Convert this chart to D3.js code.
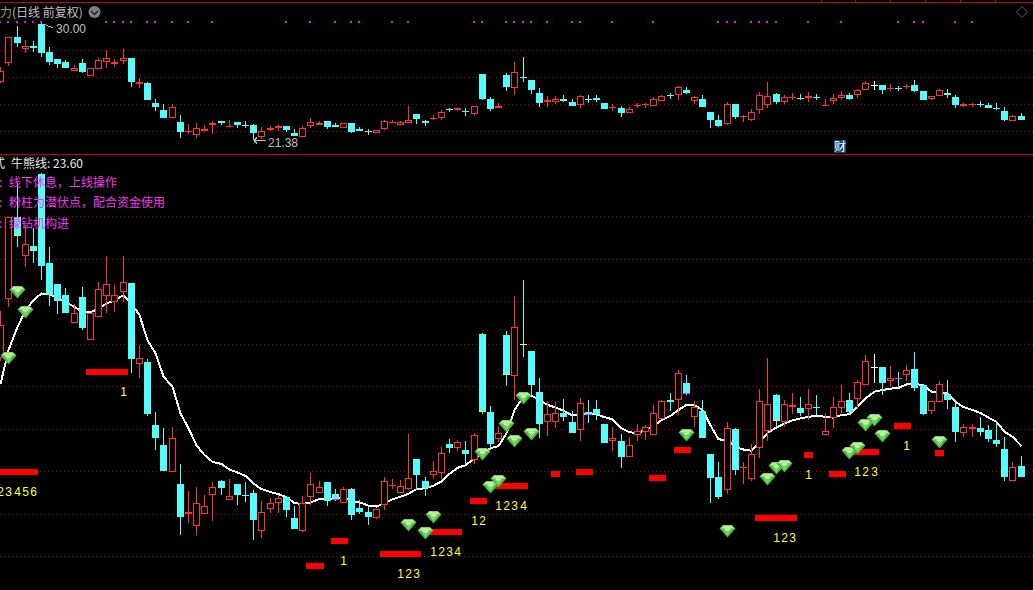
<!DOCTYPE html>
<html><head><meta charset="utf-8">
<script src="https://cdnjs.cloudflare.com/ajax/libs/d3/7.8.5/d3.min.js"></script>
<style>html,body{margin:0;padding:0;background:#000;overflow:hidden}svg{display:block}</style>
</head><body><svg id="c" width="1033" height="590"></svg>
<script>
const opens=[25.66,27.06,28.98,28.06,28.29,29.98,27.89,27.39,27.14,26.49,
27.09,26.09,26.63,27.12,26.98,27.22,27.42,25.53,25.56,24.08,
23.61,22.99,22.7,22.0,21.72,22.0,22.45,22.77,22.33,22.7,
22.44,22.49,21.6,22.12,22.26,22.39,21.9,21.6,22.39,22.49,
22.75,22.46,22.25,22.58,22.14,22.04,21.9,22.2,22.66,22.49,
22.58,23.29,22.77,22.91,22.97,23.64,23.55,23.5,23.27,26.22,
24.39,23.76,26.2,25.24,25.99,25.82,24.86,24.16,24.16,24.37,
24.16,23.98,24.39,24.46,24.11,23.71,23.71,23.34,23.84,23.93,
23.84,24.23,24.67,24.68,25.07,24.27,24.41,23.4,22.86,22.57,
23.99,23.08,22.82,23.55,23.95,24.79,24.16,24.5,24.48,24.47,
24.51,23.85,24.26,24.49,24.67,24.69,25.03,25.45,25.45,25.13,
25.19,25.27,25.4,25.02,24.41,24.63,24.81,24.51,23.91,24.0,
24.01,23.97,23.73,23.52,22.78,23.12];
const closes=[26.43,28.98,28.54,28.35,28.18,27.82,27.14,27.0,26.71,26.71,
26.37,26.71,27.29,27.41,27.15,27.46,25.63,25.67,24.35,23.78,
23.0,23.79,21.93,22.05,22.25,22.18,22.64,22.61,22.42,22.44,
22.42,21.85,22.03,22.25,22.37,22.09,21.64,22.25,22.7,22.62,
22.3,22.32,22.58,21.97,22.04,21.93,22.11,22.77,22.68,22.66,
22.84,22.9,22.61,23.0,23.43,23.55,23.69,23.41,23.84,24.39,
23.64,23.89,25.26,26.4,25.96,25.03,24.11,24.34,24.37,24.28,
23.9,24.6,24.32,24.34,23.66,23.78,23.34,23.62,23.95,24.04,
24.38,24.65,24.63,25.3,24.81,24.52,23.78,22.84,22.4,24.01,
23.03,23.1,23.4,24.66,24.59,24.18,24.57,24.55,24.37,24.59,
24.49,23.94,24.5,24.66,24.39,25.09,25.6,25.45,25.07,25.18,
25.16,25.39,24.95,24.34,24.64,25.06,24.67,23.92,24.05,24.05,
23.92,23.76,23.64,22.86,23.11,22.86];
const highs=[26.76,28.98,29.78,28.78,28.72,30.0,28.26,27.39,27.3,26.93,
27.32,26.71,27.44,28.05,27.37,28.07,27.42,25.96,25.65,24.39,
24.01,24.04,23.18,22.53,22.63,22.44,22.75,22.8,22.82,22.7,
22.75,22.56,22.3,22.37,22.44,22.41,22.18,22.42,22.96,22.77,
22.75,22.58,22.63,22.6,22.33,22.19,22.11,22.87,22.82,22.8,
23.88,23.29,22.87,23.24,23.57,23.76,23.73,23.71,23.89,26.25,
24.53,24.06,26.29,27.11,27.49,25.82,25.19,24.65,24.63,24.7,
24.42,24.72,24.67,24.67,24.11,24.04,23.87,23.8,24.11,24.09,
24.56,24.67,24.84,25.38,25.26,24.65,24.67,23.4,23.22,24.15,
24.01,23.22,23.64,24.93,25.66,24.81,24.67,24.84,24.74,24.93,
24.79,24.37,24.74,25.02,24.84,25.14,25.73,25.75,25.45,25.47,
25.33,25.49,25.8,25.02,24.64,25.12,25.14,24.67,24.11,24.12,
24.27,24.08,24.13,23.8,23.22,23.36];
const lows=[25.6,26.86,28.27,27.8,27.9,27.49,26.88,26.69,26.71,26.49,
26.32,26.09,26.63,26.72,26.74,26.98,25.31,25.18,24.3,23.5,
23.0,22.99,21.5,21.79,21.5,22.0,21.83,22.44,22.33,22.21,
22.28,21.38,21.43,22.02,22.02,21.93,21.64,21.57,22.21,22.49,
22.18,22.29,22.25,21.86,22.0,21.74,21.88,22.09,22.58,22.49,
22.58,22.56,22.42,22.82,22.82,23.43,23.48,23.17,23.17,24.34,
23.5,23.69,25.0,24.67,25.68,24.79,23.78,23.83,24.02,24.18,
23.9,23.71,24.13,24.2,23.66,23.48,23.08,23.34,23.71,23.73,
23.84,24.23,24.41,24.32,24.79,24.04,23.78,22.25,22.35,22.47,
22.91,22.7,22.77,23.31,23.71,24.01,24.04,24.34,24.3,24.2,
24.32,23.85,24.01,24.32,24.34,24.46,25.03,25.07,24.79,25.0,
24.95,25.12,24.88,24.32,24.34,24.63,24.46,23.69,23.8,23.8,
23.83,23.69,23.57,22.77,22.78,22.86];
const bullBear=[25.05,25.85,26.39,26.78,27.02,27.18,27.16,27.08,26.98,26.86,
26.74,26.74,26.82,26.94,27.02,27.14,26.94,26.67,26.08,25.77,
25.23,24.98,24.36,24.01,23.61,23.38,23.22,23.17,23.04,22.97,
22.89,22.71,22.58,22.51,22.46,22.39,22.25,22.23,22.26,22.35,
22.36,22.35,22.40,22.29,22.27,22.19,22.17,22.25,22.34,22.4,
22.47,22.58,22.6,22.66,22.76,22.94,23.08,23.14,23.3,23.44,
23.54,23.59,23.89,24.44,24.75,24.78,24.67,24.56,24.5,24.42,
24.31,24.33,24.34,24.34,24.27,24.22,24.01,23.92,23.89,23.98,
24.06,24.2,24.3,24.44,24.56,24.55,24.44,24.08,23.75,23.73,
23.56,23.51,23.48,23.69,23.9,24.03,24.12,24.2,24.24,24.28,
24.3,24.28,24.26,24.32,24.34,24.51,24.71,24.87,24.91,24.94,
24.96,25.04,25.06,25.02,24.87,24.85,24.84,24.63,24.51,24.44,
24.37,24.26,24.16,23.93,23.81,23.59];
const barStart=[0,11,41,38,47,53,58,61,68,71,80,83,93,99,102,105,110,115];
const barEnd=[4,15,42,39,51,56,59,64,68,72,81,84,97,99,103,107,111,115];
const barValue=[22.98,25.33,21.36,20.77,21.06,21.58,22.30,22.65,22.94,22.98,22.84,23.5,21.9,23.38,22.94,23.45,24.06,23.43];
const barLabel=["23456","1","1","","123","1234","12","1234","","","","","123","1","","123","1",""];
const gemIndex=[2,3,1,50,52,53,59,60,61,62,63,64,65,84,89,94,95,96,104,105,106,107,108,115];
const gemValue=[27.21,26.74,25.66,21.74,21.55,21.93,23.41,22.63,22.77,24.06,23.71,24.72,23.88,23.85,21.6,22.82,23.08,23.12,23.43,23.55,24.09,24.2,23.83,23.69];
const dotIndex=[0,1,2,3,4,5,13,14,15,16,18,19,21,23,26,35,38,41,43,44,48,50,58,59,62,63,64,65,67,70,71,75,80,88,89,90,92,93,94,95,99,103,110,112,113,117,119];
const yellowMarks=[2,4,59,62,64,95];
const magentaMarks=[41,72,84,110];
const topGrid=[28,26,24,22];
const bottomGrid=[29,28,27,26,25,24,23,22,21];
const noteLines=["线下休息，上线操作","粉柱为潜伏点，配合资金使用","绿钻机构进"];
const topTicks=[821,855,890,925,960,995];
const currentBullBear="23.60";

const RED="#ff3232",CYAN="#54fcfc",W=1033;
const svg=d3.select("#c");
svg.append("rect").attr("width",W).attr("height",590).attr("fill","#000");
const defs=svg.append("defs");
defs.append("clipPath").attr("id","ct").append("rect").attr("x",0).attr("y",3).attr("width",W).attr("height",151);
defs.append("clipPath").attr("id","cb").append("rect").attr("x",0).attr("y",155).attr("width",W).attr("height",435);

const xS=d3.scaleLinear().domain([0,125]).range([0.7,1021]);
const px=i=>Math.floor(xS(i));
const yTop=d3.scaleLinear().domain([22,28]).range([131.3,50.3]);
const yBot=d3.scaleLinear().domain([21,29]).range([556.3,216]);
const rows=d3.range(opens.length);

function grid(g,scale,vals){
  g.call(d3.axisLeft(scale).tickValues(vals).tickSize(-W).tickFormat(""));
  g.select(".domain").remove();
  g.selectAll("line").attr("stroke","#a00000").attr("stroke-dasharray","1 3").attr("shape-rendering","crispEdges");
}
function candles(g,y){
  rows.forEach(i=>{
    const o=opens[i],c=closes[i],h=highs[i],l=lows[i],x=px(i);
    const doji=o===c, up=c>=o;
    const col=doji?"#ffffff":up?RED:CYAN;
    const t=Math.round(y(Math.max(o,c))),b=Math.round(y(Math.min(o,c)));
    const wick=(a,z)=>{if(z>a)g.append("rect").attr("x",x).attr("y",a).attr("width",1).attr("height",z-a).attr("fill",col);};
    wick(Math.round(y(h)),t);
    wick(b,Math.round(y(l)));
    if(up&&!doji&&b-t>=2){
      g.append("rect").attr("x",x-3+0.5).attr("y",t+0.5).attr("width",6).attr("height",b-t-1+0)
       .attr("fill","#000").attr("stroke",col).attr("stroke-width",1);
    }else{
      g.append("rect").attr("x",x-3).attr("y",t).attr("width",7).attr("height",Math.max(1,b-t)).attr("fill",col);
    }
  });
}
svg.attr("shape-rendering","crispEdges");

// top panel
const tp=svg.append("g").attr("clip-path","url(#ct)");
tp.append("g").call(grid,yTop,topGrid);
candles(tp,yTop);
svg.append("g").selectAll("rect").data(dotIndex).join("rect")
  .attr("x",i=>px(i)-1).attr("y",21).attr("width",2).attr("height",2).attr("fill","#ff00ff");

// bottom panel
const bp=svg.append("g").attr("clip-path","url(#cb)");
bp.append("g").call(grid,yBot,bottomGrid);
bp.append("path").datum(bullBear)
  .attr("d",d3.line().x((d,i)=>px(i)+0.5).y(d=>yBot(d)))
  .attr("fill","none").attr("stroke","#fff").attr("stroke-width",2);
candles(bp,yBot);
bp.selectAll(".ym").data(yellowMarks).join("rect").attr("x",i=>px(i)-3).attr("y",i=>Math.round(yBot(closes[i]))-1).attr("width",7).attr("height",1).attr("fill","#ffff00");
bp.selectAll(".mm").data(magentaMarks).join("rect").attr("x",i=>px(i)-3).attr("y",i=>Math.round(yBot(closes[i]))-1).attr("width",7).attr("height",1).attr("fill","#ff33ff");

// red bars and counters
barStart.forEach((s,k)=>{
  const yc=Math.round(yBot(barValue[k]));
  bp.append("rect").attr("x",px(s)-4).attr("y",yc-3).attr("width",px(barEnd[k])-px(s)+9).attr("height",6).attr("fill","#ff0000");
  const digits=barLabel[k].split("");
  digits.forEach((d,n)=>{
    const idx=barEnd[k]-digits.length+1+n;
    bp.append("text").attr("x",px(idx)+0.5).attr("y",yc+24).attr("text-anchor","middle")
      .attr("font-family","Liberation Sans").attr("font-size",12).attr("fill","#ffff33").text(d);
  });
});

// gems
const gem=bp.selectAll(".gem").data(gemIndex).join("g").attr("class","gem")
  .attr("transform",(i,k)=>`translate(${px(i)+0.5},${Math.round(yBot(gemValue[k]))})`).attr("shape-rendering","auto");
gem.append("path").attr("d","M-4.5,-6L4.5,-6L8,-2.5L0,6.5L-8,-2.5Z").attr("fill","#4fb53f");
gem.append("path").attr("d","M-4,-5.5L4,-5.5L7,-2.5L-7,-2.5Z").attr("fill","#b6f29c");
gem.append("path").attr("d","M-4.5,-2L4.5,-2L0,4.5Z").attr("fill","#6fdc5a");
gem.append("path").attr("d","M-3,-2.5L3,-2.5L1.5,-0.5L-1.5,-0.5Z").attr("fill","#e6ffdc");

// frame lines
[[0,2,W,1],[0,154,W,1]].forEach(r=>svg.append("rect").attr("x",r[0]).attr("y",r[1]).attr("width",r[2]).attr("height",r[3]).attr("fill","#c80000"));
topTicks.forEach(x=>svg.append("rect").attr("x",x).attr("y",0).attr("width",1).attr("height",2).attr("fill","#c80000"));

// texts
const CJK="'Noto Sans CJK SC','Noto Sans',sans-serif";
const txt=(x,y,s,col,size,fam)=>svg.append("text").attr("x",x).attr("y",y).attr("fill",col)
  .attr("font-family",fam||CJK).attr("font-size",size||12).text(s);
txt(0,17,"力","#a8a020",12);
txt(12,17,"(日线 前复权)","#c0c0c0",12);
svg.append("circle").attr("cx",94.5).attr("cy",12).attr("r",6).attr("fill","#808080").attr("shape-rendering","auto");
svg.append("path").attr("d","M91,11L94.5,14.5L98,11").attr("fill","none").attr("stroke","#222").attr("stroke-width",1.5).attr("shape-rendering","auto");
svg.append("path").attr("d","M1022,6.5L1027.5,12L1022,17.5L1016.5,12Z").attr("fill","none").attr("stroke","#606060").attr("shape-rendering","auto");

const hiI=highs.indexOf(d3.max(highs)),loI=lows.indexOf(d3.min(lows));
const hx=px(hiI),hy=Math.round(yTop(highs[hiI]));
const lx=px(loI),ly=Math.round(yTop(lows[loI]));
svg.append("path").attr("d",`M${hx+1},${hy+1.5}L${hx+5},${hy+1.5}M${hx+1},${hy+1.5}L${hx+3},${hy+3.5}M${hx+5},${hy+2.5}L${hx+12},${hy+4.5}`).attr("stroke","#c0c0c0").attr("fill","none");
txt(hx+15,hy+10,d3.format(".2f")(highs[hiI]),"#c0c0c0",12,"Liberation Sans");
svg.append("path").attr("d",`M${lx+1},${ly+0.5}L${lx+13},${ly+0.5}M${lx+1},${ly+0.5}L${lx+4},${ly-2.5}M${lx+1},${ly+0.5}L${lx+4},${ly+3.5}`).attr("stroke","#c0c0c0").attr("fill","none");
txt(lx+15,ly+7,d3.format(".2f")(lows[loI]),"#c0c0c0",12,"Liberation Sans");

svg.append("rect").attr("x",px(102)+1).attr("y",140).attr("width",12).attr("height",13).attr("fill","#0f4a80");
txt(px(102)+1,151,"财","#ffffff",12);

txt(-7,168,"式","#e8e8e8",12);
txt(11,168,"牛熊线: "+currentBullBear,"#e8e8e8",12);
const noteY=[187,207,228];
noteLines.forEach((s,k)=>{txt(-1,noteY[k],":","#f038f0",12);txt(9,noteY[k],s,"#f038f0",12);});
</script></body></html>
